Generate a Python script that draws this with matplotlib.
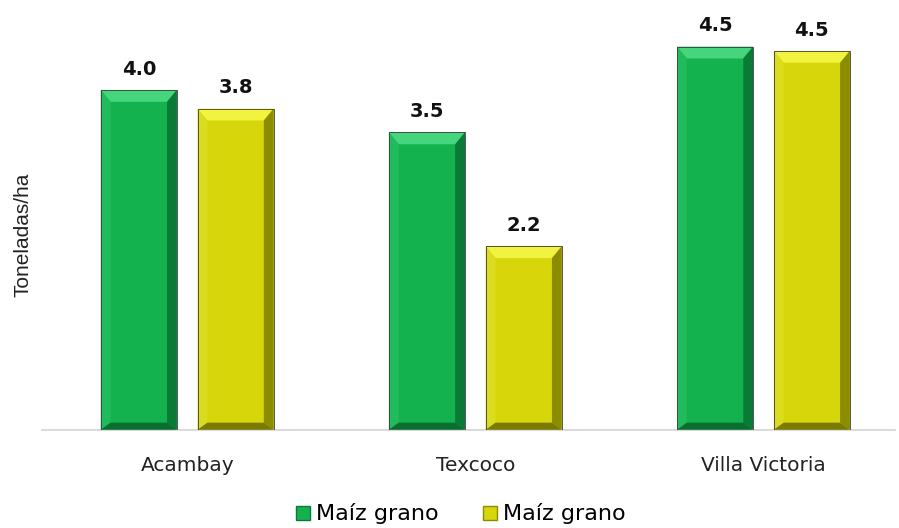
import matplotlib.pyplot as plt
import numpy as np
from matplotlib.patches import Polygon, Patch

categories = ["Acambay", "Texcoco", "Villa Victoria"]
serie_verde = [4.0, 3.5, 4.51]
serie_amarilla = [3.78, 2.16, 4.46]
series_labels = ["Maíz grano", "Maíz grano"]

# main face, top, left, right, bottom bevel colours
VERDE = ["#13B24F", "#45D67D", "#22BB5C", "#0B7A36", "#0A6E31"]
AMARILLO = ["#D6D60A", "#F2F240", "#DCDC1E", "#8C8C00", "#7A7A00"]


def bevel_bar(ax, rect, colors, dx=0.034, dy=0.14):
    x0, y0 = rect.get_x(), rect.get_y()
    w, h = rect.get_width(), rect.get_height()
    x1, y1 = x0 + w, y0 + h
    face, top, left, right, bottom = colors
    dyb = dy * 0.6
    faces = [
        ([(x0, y1), (x1, y1), (x1 - dx, y1 - dy), (x0 + dx, y1 - dy)], top),
        ([(x0, y0), (x0, y1), (x0 + dx, y1 - dy), (x0 + dx, y0 + dyb)], left),
        ([(x1, y0), (x1, y1), (x1 - dx, y1 - dy), (x1 - dx, y0 + dyb)], right),
        ([(x0, y0), (x1, y0), (x1 - dx, y0 + dyb), (x0 + dx, y0 + dyb)], bottom),
    ]
    for pts, c in faces:
        ax.add_patch(Polygon(pts, closed=True, facecolor=c, edgecolor="none", zorder=3))
    ax.add_patch(Polygon([(x0, y0), (x0, y1), (x1, y1), (x1, y0)], closed=True,
                         facecolor="none", edgecolor="#3a3a3a", linewidth=0.6, zorder=4))


fig = plt.figure(figsize=(8.99, 5.28), dpi=100)
ax = fig.add_axes([0.047, 0.186, 0.949, 0.795])

x = np.arange(len(categories))
width = 0.264
off = 0.168

b1 = ax.bar(x - off, serie_verde, width, color=VERDE[0], zorder=2)
b2 = ax.bar(x + off, serie_amarilla, width, color=AMARILLO[0], zorder=2)

for bars, cols, vals in [(b1, VERDE, serie_verde), (b2, AMARILLO, serie_amarilla)]:
    for rect, v in zip(bars, vals):
        bevel_bar(ax, rect, cols)
        ax.annotate(f"{v:.1f}", (rect.get_x() + rect.get_width() / 2, v),
                    xytext=(0, 8), textcoords="offset points", ha="center", va="bottom",
                    fontsize=14, fontweight="bold", color="#111111", family="DejaVu Sans")

ax.set_xlim(-0.503, 2.458)
ax.set_ylim(0, 4.94)
ax.set_xticks(x)
ax.set_xticklabels(categories, fontsize=14.5, color="#222222")
ax.tick_params(axis="x", length=0, pad=19)
ax.set_yticks([])
for s in ["top", "right", "left"]:
    ax.spines[s].set_visible(False)
ax.spines["bottom"].set_color("#d4d4d4")
ax.spines["bottom"].set_linewidth(1.2)

fig.text(0.026, 1 - 235 / 528, "Toneladas/ha", rotation=90, ha="center", va="center",
         fontsize=15, color="#222222", family="Liberation Sans")

handles = [Patch(facecolor=VERDE[0], edgecolor=VERDE[3], linewidth=1),
           Patch(facecolor=AMARILLO[0], edgecolor=AMARILLO[3], linewidth=1)]
fig.legend(handles, series_labels, loc="center", bbox_to_anchor=(0.513, 1 - 514 / 528),
           ncol=2, frameon=False, fontsize=16, handlelength=0.6, handleheight=0.6,
           handletextpad=0.3, columnspacing=2.0)

fig.savefig("out.png", dpi=100)
